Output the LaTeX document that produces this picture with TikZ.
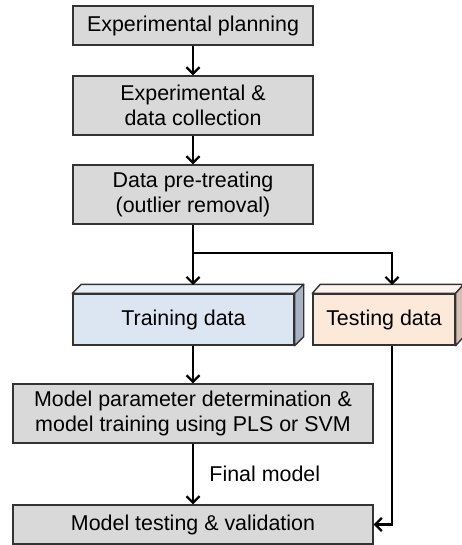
\documentclass[tikz,border=0pt]{standalone}
\usepackage{fontspec}
\setmainfont{Liberation Sans}
\usetikzlibrary{arrows.meta}
\definecolor{boxgray}{HTML}{D9D9D9}
\definecolor{boxline}{HTML}{333333}
\definecolor{trainfront}{HTML}{DCE6F2}
\definecolor{traintop}{HTML}{E9EFF7}
\definecolor{trainside}{HTML}{A8B4C4}
\definecolor{testfront}{HTML}{FDE9D9}
\definecolor{testtop}{HTML}{FEF3EC}
\definecolor{testside}{HTML}{D6C0B2}
\begin{document}
\begin{tikzpicture}[x=1bp,y=-1bp,
    box/.style={draw=boxline,line width=1.4bp,fill=boxgray,align=center,
      inner sep=0pt,font=\fontsize{21.5}{25}\selectfont},
    depth/.style={draw=boxline,line width=1.4bp,line join=round},
    flow/.style={line width=2.2bp,-{Straight Barb[length=6.5bp,width=13bp,line width=2.2bp]}}]
  \useasboundingbox (0,0) rectangle (462,545);
  \node[box,minimum width=240bp,minimum height=39bp] (plan) at (193,25.5) {Experimental planning};
  \node[box,minimum width=240bp,minimum height=59bp] (collect) at (193,105.5) {Experimental \&\\data collection};
  \node[box,minimum width=240bp,minimum height=59bp] (pretreat) at (193,194.5) {Data pre-treating\\(outlier removal)};
  \node[box,fill=trainfront,minimum width=221bp,minimum height=51bp] (train) at (183.5,319.5) {Training data};
  \node[box,fill=testfront,minimum width=142bp,minimum height=51bp] (test) at (384,319.5) {Testing data};
  \node[box,minimum width=360bp,minimum height=59bp] (param) at (193,413.5) {Model parameter determination \&\\model training using PLS or SVM};
  \node[box,minimum width=360bp,minimum height=39bp] (valid) at (193,524.5) {Model testing \& validation};
  % box depth
  \filldraw[depth,fill=traintop]
    (train.north west) -- ++(9,-9) -- ([shift={(9,-9)}]train.north east) -- (train.north east) -- cycle;
  \filldraw[depth,fill=trainside]
    (train.north east) -- ++(9,-9) -- ([shift={(9,-9)}]train.south east) -- (train.south east) -- cycle;
  \filldraw[depth,fill=testtop]
    (test.north west) -- ++(8,-9) -- ([shift={(8,-9)}]test.north east) -- (test.north east) -- cycle;
  \filldraw[depth,fill=testside]
    (test.north east) -- ++(8,-9) -- ([shift={(8,-9)}]test.south east) -- (test.south east) -- cycle;
  \coordinate (split) at (193,253);
  \coordinate (trainin) at (193,285);
  \coordinate (testin) at (392,285);
  \draw[flow] (plan) -- (collect);
  \draw[flow] (collect) -- (pretreat);
  \draw[line width=2.2bp] (pretreat.south) -- (split);
  \draw[flow] (split) -- (trainin);
  \draw[flow] (split) -| (testin);
  \draw[flow] (train.south -| pretreat.south) -- (param.north);
  \draw[flow] (param) -- (valid) node[midway,right,xshift=12bp,font=\fontsize{21.5}{25}\selectfont] {Final model};
  \draw[flow] (test.south -| testin) |- (valid.east);
\end{tikzpicture}
\end{document}
